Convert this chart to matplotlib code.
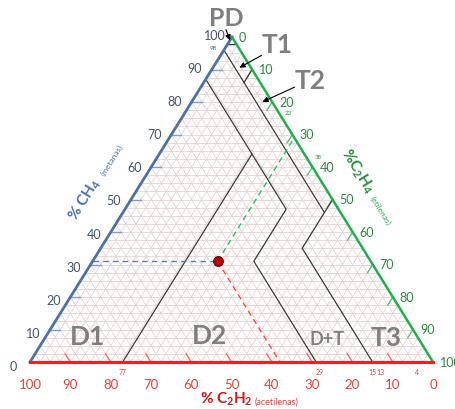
"""
Duval triangle 1 (CH4 / C2H4 / C2H2) with one gas sample marked.
"""

import math

import matplotlib

matplotlib.use("Agg")
import matplotlib.pyplot as plt
import numpy as np

plt.rcParams["font.family"] = ["Lato", "DejaVu Sans"]
plt.rcParams["mathtext.fontset"] = "custom"
plt.rcParams["mathtext.rm"] = "Lato"
plt.rcParams["mathtext.bf"] = "Lato:bold"
plt.rcParams["mathtext.default"] = "bf"

# --- data -------------------------------------------------------------------
TICKS = [0, 10, 20, 30, 40, 50, 60, 70, 80, 90, 100]
CH4_MARKS = [98]
C2H4_MARKS = [23, 38]
C2H2_MARKS = [77, 29, 15, 13, 4]

# zone boundaries, points as (%CH4, %C2H4, %C2H2)
BOUNDARIES = [
    [(98, 2, 0), (98, 0, 2)],                                   # PD
    [(96, 0, 4), (46, 50, 4)],                                  # T1/T2 | D+T
    [(90, 10, 0), (86, 10, 4)],                                 # T1 | T2
    [(50, 50, 0), (35, 50, 15), (0, 85, 15)],                   # T3
    [(87, 0, 13), (47, 40, 13), (31, 40, 29), (0, 71, 29)],     # D2 | D+T
    [(0, 23, 77), (64, 23, 13)],                                # D1 | D2
]

SAMPLE = (31, 31, 38)

# --- layout -----------------------------------------------------------------
BL = (30.0, 363.0)   # 100 % C2H2
BR = (433.0, 363.0)  # 100 % C2H4
TOP = (232.0, 38.0)  # 100 % CH4

BLUE = "#4f6fa8"
BLUE_TXT = "#44546a"
GREEN = "#1fb04a"
GREEN_TXT = "#2a8a3a"
RED = "#ff1a1a"
RED_TXT = "#e8403a"
GRID = "#e8d2d2"
ZONE = "#7f7f7f"


def tern(ch4, c2h4, c2h2=None):
    if c2h2 is None:
        c2h2 = 100.0 - ch4 - c2h4
    x = (ch4 * TOP[0] + c2h4 * BR[0] + c2h2 * BL[0]) / 100.0
    y = (ch4 * TOP[1] + c2h4 * BR[1] + c2h2 * BL[1]) / 100.0
    return x, y


def seg(ax, p, q, **kw):
    a = tern(*p)
    b = tern(*q)
    ax.plot([a[0], b[0]], [a[1], b[1]], **kw)


def main():
    fig = plt.figure(figsize=(4.56, 4.10), dpi=100)
    ax = fig.add_axes([0, 0, 1, 1])
    ax.set_xlim(0, 456)
    ax.set_ylim(410, 0)
    ax.axis("off")

    # fine triangular grid
    for v in np.arange(2.5, 100, 2.5):
        gkw = dict(color=GRID, lw=0.6, zorder=1)
        seg(ax, (v, 0, 100 - v), (v, 100 - v, 0), **gkw)
        seg(ax, (0, v, 100 - v), (100 - v, v, 0), **gkw)
        seg(ax, (0, 100 - v, v), (100 - v, 0, v), **gkw)

    # edges
    seg(ax, (0, 0, 100), (100, 0, 0), color=BLUE, lw=2.0, zorder=4)
    seg(ax, (100, 0, 0), (0, 100, 0), color=GREEN, lw=1.8, zorder=4)
    seg(ax, (0, 100, 0), (0, 0, 100), color=RED, lw=2.2, zorder=4)

    # tick marks and labels
    tl = 2.5
    for t in TICKS:
        if 0 < t < 100:
            seg(ax, (t, 0, 100 - t), (t, tl, 100 - t - tl), color="#7f9ad6", lw=1.0, zorder=3)
            seg(ax, (100 - t, t, 0), (100 - t - tl, t, tl), color="#55c77a", lw=1.0, zorder=3)
            seg(ax, (0, 100 - t, t), (tl, 100 - t - tl, t), color="#ff6a6a", lw=1.0, zorder=3)
        x, y = tern(t, 0, 100 - t)
        dy = 4 - 6 * t / 100.0
        ax.text(x - 17, y + dy, str(t), color=BLUE_TXT, fontsize=9, ha="center", va="center")
        x, y = tern(100 - t, t, 0)
        ax.text(x + 7, y + 0, str(t), color=GREEN_TXT, fontsize=9, ha="left", va="center")
        x, y = tern(0, 100 - t, t)
        ax.text(x, y + 22, str(t), color=RED_TXT, fontsize=9.5, ha="center", va="center")

    for t in CH4_MARKS:
        x, y = tern(t, 0, 100 - t)
        ax.text(x - 15, y + 4, str(t), color=BLUE_TXT, fontsize=4.5, ha="center", va="center")
    for t in C2H4_MARKS:
        x, y = tern(100 - t, t, 0)
        dy = 1 if t < 30 else -4
        ax.text(x + 6, y + dy, str(t), color=GREEN_TXT, fontsize=4.5, ha="left", va="center")
    for t in C2H2_MARKS:
        x, y = tern(0, 100 - t, t)
        dx = 4 if t == 29 else 0
        ax.text(x + dx, y + 10, str(t), color=RED_TXT, fontsize=5, ha="center", va="center")

    # zone boundaries
    for line in BOUNDARIES:
        pts = [tern(*p) for p in line]
        ax.plot([p[0] for p in pts], [p[1] for p in pts], color="#3a3a3a", lw=0.9, zorder=3)

    # sample point with its read-off lines
    m, e, a = SAMPLE
    px, py = tern(m, e, a)
    seg(ax, (m, 0, 100 - m), SAMPLE, color="#5b7bc0", lw=1.0, ls=(0, (4, 3)), zorder=3)
    seg(ax, SAMPLE, (100 - e, e, 0), color="#2fbf5f", lw=1.0, ls=(0, (4, 3)), zorder=3)
    seg(ax, SAMPLE, (0, 100 - a, a), color="#ff4a4a", lw=1.0, ls=(0, (4, 3)), zorder=3)
    ax.plot(px, py, "o", ms=7, mfc="#c00000", mec="#6a0000", mew=0.8, zorder=5)

    # axis titles (y axis points down, so flip the sign for screen angles)
    ang = math.degrees(math.atan2(BL[1] - TOP[1], TOP[0] - BL[0]))
    ax.text(85, 200, r"% CH$_4$", color=BLUE, fontsize=11, fontweight="bold",
            rotation=ang, ha="center", va="center", rotation_mode="anchor")
    ax.text(112, 160, "(metanas)", color=BLUE, fontsize=6,
            rotation=ang, ha="center", va="center", rotation_mode="anchor")
    ax.text(357, 171, r"%C$_2$H$_4$", color=GREEN_TXT, fontsize=11, fontweight="bold",
            rotation=-ang, ha="center", va="center", rotation_mode="anchor")
    ax.text(380, 211, "(etilenas)", color=GREEN, fontsize=6,
            rotation=-ang, ha="center", va="center", rotation_mode="anchor")
    ax.text(226, 399, r"% C$_2$H$_2$", color="#e01010", fontsize=11, fontweight="bold",
            ha="center", va="center")
    ax.text(277, 402, "(acetilenas)", color=RED_TXT, fontsize=6.5, ha="center", va="center")

    # zone names
    zkw = dict(color=ZONE, fontweight="bold", ha="center", va="center", zorder=6)
    ax.text(226, 19, "PD", fontsize=18, **zkw)
    ax.text(277, 45, "T1", fontsize=19, **zkw)
    ax.text(310, 81, "T2", fontsize=19, **zkw)
    ax.text(88, 337, "D1", fontsize=19, **zkw)
    ax.text(210, 336, "D2", fontsize=19, **zkw)
    ax.text(327, 340, "D+T", fontsize=13, **zkw)
    ax.text(386, 338, "T3", fontsize=19, **zkw)

    akw = dict(arrowstyle="-|>", color="black", lw=0.8, mutation_scale=8)
    ax.annotate("", xy=(231, 44), xytext=(225, 28), arrowprops=akw, zorder=6)
    ax.annotate("", xy=(237, 70), xytext=(264, 55), arrowprops=akw, zorder=6)
    ax.annotate("", xy=(260, 104), xytext=(297, 87), arrowprops=akw, zorder=6)

    fig.savefig("out.png", dpi=100)
    plt.close(fig)


if __name__ == "__main__":
    main()
